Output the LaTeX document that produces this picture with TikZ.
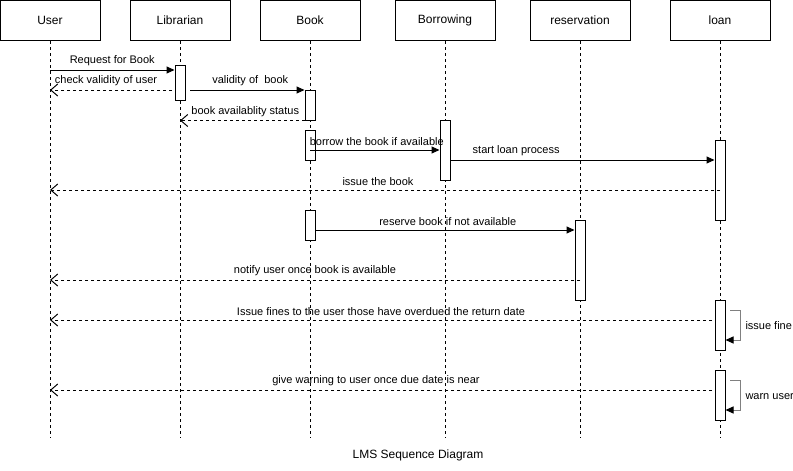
\documentclass[tikz,border=0pt]{standalone}
\usepackage{fontspec}
\setmainfont{Liberation Sans}
\usetikzlibrary{arrows.meta}
\begin{document}
\begin{tikzpicture}[x=1pt,y=-1pt,line width=1pt,
  head/.style={draw,fill=white,minimum width=100pt,minimum height=40pt,inner sep=0pt,font=\fontsize{12}{14}\selectfont},
  life/.style={draw,dash pattern=on 3pt off 3pt},
  act/.style={draw,fill=white,minimum width=10pt,inner sep=0pt},
  sync/.style={-{Triangle[length=8pt,width=7pt]}},
  reply/.style={dash pattern=on 3pt off 3pt,-{Straight Barb[length=7pt,width=12pt,line width=1pt]}},
  selfm/.style={draw=black!50,-{Triangle[length=8pt,width=7pt,color=black,fill=black]}},
  lbl/.style={inner sep=2pt,yshift=1.5pt,font=\fontsize{11}{13}\selectfont},
  font=\fontsize{11}{13}\selectfont]
\useasboundingbox (0,0) rectangle (793,471);
% lifeline ends
\coordinate (eU) at (50,438);
\coordinate (eL) at (180,438);
\coordinate (eB) at (310,438);
\coordinate (eW) at (445,438);
\coordinate (eR) at (580,438);
\coordinate (eN) at (720,438);
% headers
\node[head] (hU) at (50,20.5) {User};
\node[head] (hL) at (180,20.5) {Librarian};
\node[head] (hB) at (310,20.5) {Book};
\node[head] (hW) at (445,20.5) {Borrowing};
\node[head] (hR) at (580,20.5) {reservation};
\node[head] (hN) at (720,20.5) {loan};
% lifelines
\draw[life] (hU.south) -- (eU);
\draw[life] (hL.south) -- (eL);
\draw[life] (hB.south) -- (eB);
\draw[life] (hW.south) -- (eW);
\draw[life] (hR.south) -- (eR);
\draw[life] (hN.south) -- (eN);
% activations
\node[act,minimum height=35pt] (aL) at (180,82.5) {};
\node[act,minimum height=30pt] (aB1) at (310,105) {};
\node[act,minimum height=30pt] (aB2) at (310,145) {};
\node[act,minimum height=60pt] (aW) at (445,150) {};
\node[act,minimum height=80pt] (aN1) at (720,180) {};
\node[act,minimum height=30pt] (aB3) at (310,225) {};
\node[act,minimum height=80pt] (aR) at (580,260) {};
\node[act,minimum height=50pt] (aN2) at (720,325) {};
\node[act,minimum height=50pt] (aN3) at (720,395) {};
% message anchors
\coordinate (m1) at (50,70);
\coordinate (m2) at (172,90);
\coordinate (m3) at (190,90);
\coordinate (m5) at (310,150);
\coordinate (m6) at (450,160);
\coordinate (m7) at (720,190);
\coordinate (m8) at (315,230);
\coordinate (m9) at (580,280);
\coordinate (m10) at (712,320);
\coordinate (m12) at (712,390);
% messages
\draw[sync] (m1) -- node[lbl,above] {Request for Book} (m1 -| aL.west);
\draw[reply] (m2) -- node[lbl,above,xshift=-5pt] {check validity of user} (m2 -| hU);
\draw[sync] (m3) -- node[lbl,above,xshift=3pt] {validity of\ \ book} (m3 -| aB1.west);
\draw[reply] (aB1.south west) -- node[lbl,above,xshift=3pt] {book availablity status} (aB1.south west -| hL);
\draw[sync] (m5) -- node[lbl,above,xshift=2pt] {borrow the book if available} (m5 -| aW.west);
\draw[sync] (m6) -- node[lbl,above,pos=0.25] {start loan process} (m6 -| aN1.west);
\draw[reply] (m7) -- node[lbl,above,xshift=-7pt] {issue the book} (m7 -| hU);
\draw[sync] (m8) -- node[lbl,above,xshift=3pt] {reserve book if not available} (m8 -| aR.west);
\draw[reply] (m9) -- node[lbl,above] {notify user once book is available} (m9 -| hU);
\draw[reply] (m10) -- node[lbl,above] {Issue fines to the user those have overdued the return date} (m10 -| hU);
\draw[reply] (m12) -- node[lbl,above,xshift=-5pt] {give warning to user once due date is near} (m12 -| hU);
% self calls
\coordinate (s1) at (730,310);
\coordinate (s2) at (740,340);
\draw[selfm] (s1) -- (s1 -| s2) -- (s2) -- (s2 -| aN2.east);
\node[anchor=west,inner sep=0pt] (t1) at (745,326) {issue fine};
\coordinate (s3) at (730,380);
\coordinate (s4) at (740,410);
\draw[selfm] (s3) -- (s3 -| s4) -- (s4) -- (s4 -| aN3.east);
\node[anchor=west,inner sep=0pt] (t2) at (745,397) {warn user};
% title
\node[font=\fontsize{12}{14}\selectfont] (title) at (418,455) {LMS Sequence Diagram};
\end{tikzpicture}
\end{document}
